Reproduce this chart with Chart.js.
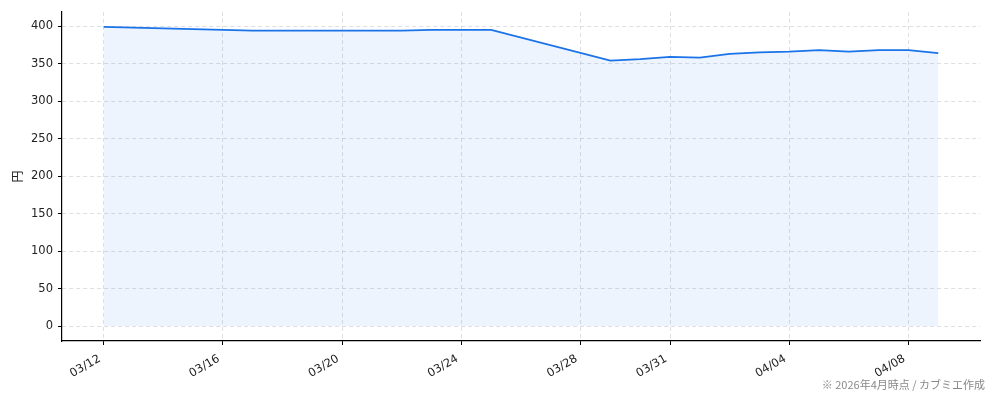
<!DOCTYPE html>
<html><head><meta charset="utf-8">
<script src="https://cdn.jsdelivr.net/npm/chart.js@4"></script>
<style>html,body{margin:0;padding:0;background:#fff}#wrap{width:994px;height:401px;position:relative}</style>
</head><body><div id="wrap"><canvas id="c"></canvas></div>
<script>
const dates = ["2026-03-12","2026-03-17","2026-03-18","2026-03-19","2026-03-20","2026-03-22","2026-03-23","2026-03-24","2026-03-25","2026-03-29","2026-03-30","2026-03-31","2026-04-01","2026-04-02","2026-04-03","2026-04-04","2026-04-05","2026-04-06","2026-04-07","2026-04-08","2026-04-09"];
const prices = [399,394,394,394,394,394,395,395,395,354,356,359,358,363,365,366,368,366,368,368,364];
const tickDates = ["2026-03-12","2026-03-16","2026-03-20","2026-03-24","2026-03-28","2026-03-31","2026-04-04","2026-04-08"];
const yTicks = [0,50,100,150,200,250,300,350,400];
const yLabel = "円";
const footnote = "※ 2026年4月時点 / カブミエ作成";

const DAY = 86400000;
const base = Date.parse(dates[0] + "T00:00:00Z");
const toDay = d => (Date.parse(d + "T00:00:00Z") - base) / DAY;
const fmt = v => { const t = new Date(base + v * DAY); return String(t.getUTCMonth()+1).padStart(2,'0') + '/' + String(t.getUTCDate()).padStart(2,'0'); };
const pts = dates.map((d,i) => ({x: toDay(d), y: prices[i]}));
const xs = pts.map(p=>p.x);
const xMin = Math.min(...xs), xMax = Math.max(...xs);
const xPad = (xMax - xMin) * 0.05;
const yMaxData = Math.max(...prices);
const yPad = yMaxData * 0.05;

const FONT = '"DejaVu Sans", sans-serif';
const JFONT = '"Noto Sans CJK JP", "DejaVu Sans", sans-serif';

const extras = {
  id: 'extras',
  afterDraw(chart) {
    const ctx = chart.ctx;
    ctx.save();
    ctx.fillStyle = '#222';
    ctx.font = '12px ' + JFONT;
    ctx.textAlign = 'center';
    ctx.textBaseline = 'middle';
    ctx.translate(17, (chart.chartArea.top + chart.chartArea.bottom) / 2);
    ctx.rotate(-Math.PI / 2);
    ctx.fillText(yLabel, 0, 0);
    ctx.restore();
    ctx.save();
    ctx.fillStyle = '#888';
    ctx.font = '11px ' + JFONT;
    ctx.textAlign = 'right';
    ctx.textBaseline = 'alphabetic';
    ctx.fillText(footnote, 985, 389);
    ctx.restore();
  }
};

new Chart(document.getElementById('c'), {
  type: 'line',
  data: { datasets: [{
    data: pts,
    borderColor: '#1a73e8',
    borderWidth: 1.8,
    backgroundColor: 'rgba(26,115,232,0.08)',
    fill: 'origin',
    pointRadius: 0,
    tension: 0
  }]},
  options: {
    responsive: true,
    maintainAspectRatio: false,
    animation: false,
    layout: { padding: { top: 10, right: 14, left: 0, bottom: 0 } },
    plugins: { legend: { display: false }, tooltip: { enabled: false } },
    scales: {
      x: {
        type: 'linear',
        min: xMin - xPad,
        max: xMax + xPad,
        afterBuildTicks: s => { s.ticks = tickDates.map(d => ({value: toDay(d)})); },
        afterFit: s => { s.height = 60; },
        ticks: {
          callback: v => fmt(v),
          minRotation: 30, maxRotation: 30,
          color: '#222',
          font: { family: FONT, size: 11.5 },
          padding: 7,
          labelOffset: -4,
          autoSkip: false
        },
        grid: { color: 'rgba(190,190,200,0.5)', lineWidth: 1, tickLength: 4, tickColor: '#000', tickWidth: 1 },
        border: { display: true, color: '#000', width: 1.2, dash: [4, 3] }
      },
      y: {
        type: 'linear',
        min: -yPad,
        max: yMaxData + yPad,
        afterBuildTicks: s => { s.ticks = yTicks.map(v => ({value: v})); },
        afterFit: s => { s.width = 62; },
        ticks: {
          color: '#222',
          font: { family: FONT, size: 11.5 },
          padding: 5
        },
        grid: { color: 'rgba(190,190,200,0.5)', lineWidth: 1, tickLength: 4, tickColor: '#000', tickWidth: 1 },
        border: { display: true, color: '#000', width: 1.2, dash: [4, 3] }
      }
    }
  },
  plugins: [extras]
});
</script></body></html>
